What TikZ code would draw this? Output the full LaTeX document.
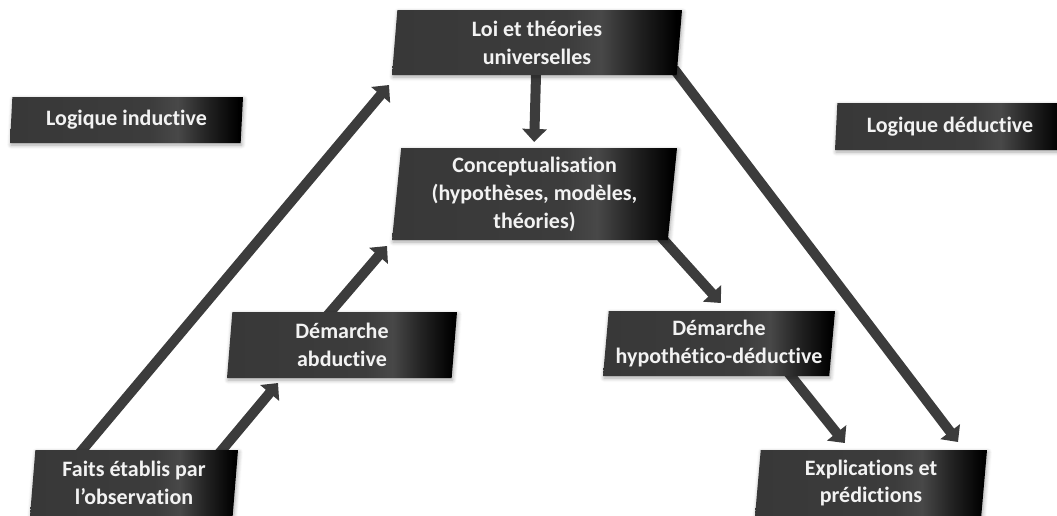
\documentclass[tikz,border=0pt]{standalone}
\usepackage{fontspec}
\setmainfont[Ligatures=NoCommon]{Carlito}
\usetikzlibrary{shapes.geometric,arrows.meta,shadows.blur}

\definecolor{boxA}{RGB}{56,56,56}
\definecolor{boxB}{RGB}{60,60,60}
\definecolor{boxC}{RGB}{72,72,72}
\definecolor{boxD}{RGB}{36,36,36}
\definecolor{boxtext}{RGB}{242,242,242}
\definecolor{linkgray}{RGB}{60,60,60}

% dark grey face with a faint light band, turning black at the right edge
\pgfdeclarehorizontalshading{boxshade}{100bp}{color(0bp)=(boxA); color(25bp)=(boxA);
  color(55bp)=(boxB); color(61bp)=(boxC); color(67bp)=(boxD); color(74bp)=(black);
  color(100bp)=(black)}

\pgfdeclarelayer{background}
\pgfsetlayers{background,main}

\tikzset{
  stage/.style={trapezium, trapezium left angle=83, trapezium right angle=97,
    trapezium stretches body, shade, shading=boxshade, text=boxtext,
    font=\bfseries\fontsize{22}{28}\selectfont, align=center,
    inner sep=0pt, outer sep=0pt,
    blur shadow={shadow xshift=1pt, shadow yshift=-2pt, shadow blur radius=4pt,
      shadow blur steps=6, shadow opacity=35}},
  link/.style={draw=linkgray, line width=10pt,
    -{Triangle[width=24pt,length=13pt]}, shorten <=-8pt}
}

\begin{document}
\begin{tikzpicture}[x=1pt,y=-1pt]
\useasboundingbox (0,0) rectangle (1057,515);
\clip (0,0) rectangle (1057,515);

\node[stage, minimum width=290pt, minimum height=65pt] (loi) at (537,42.5)
  {Loi et théories\\universelles};
\node[stage, minimum width=233pt, minimum height=46pt] (ind) at (126.5,120)
  {Logique inductive};
\node[stage, minimum width=230pt, minimum height=47pt] (ded) at (950,126.5)
  {Logique déductive};
\node[stage, minimum width=285pt, minimum height=92pt] (concept) at (534.5,194)
  {Conceptualisation\\(hypothèses, modèles,\\théories)};
\node[stage, minimum width=230pt, minimum height=66pt] (abd) at (342,345)
  {Démarche\\abductive};
\node[stage, minimum width=232pt, minimum height=65pt] (hyp) at (719,343.5)
  {Démarche\\hypothético-déductive};
\node[stage, minimum width=208pt, minimum height=66pt] (faits) at (134,483)
  {Faits établis par\\l’observation};
\node[stage, minimum width=232pt, minimum height=66pt] (expl) at (871,483)
  {Explications et\\prédictions};

\begin{pgfonlayer}{background}
  \draw[link] ([xshift=47pt]faits.top left corner) -- ([xshift=-3pt,yshift=-10pt]loi.bottom left corner);
  \draw[link] ([xshift=-16pt]faits.top right corner) -- ([xshift=51pt,yshift=-5pt]abd.bottom left corner);
  \draw[link] ([xshift=98pt]abd.top left corner) -- ([xshift=-5pt,yshift=-6pt]concept.bottom left corner);
  \draw[link] ([xshift=144pt]loi.bottom left corner) -- ([xshift=133pt,yshift=6pt]concept.top left corner);
  \draw[link] ([xshift=2pt]loi.bottom right corner) -- ([xshift=-29pt,yshift=8pt]expl.top right corner);
  \draw[link] ([xshift=-4pt]concept.bottom right corner) -- ([xshift=112pt,yshift=8pt]hyp.top left corner);
  \draw[link] ([xshift=188pt]hyp.bottom left corner) -- ([xshift=84pt,yshift=7pt]expl.top left corner);
\end{pgfonlayer}
\end{tikzpicture}
\end{document}
